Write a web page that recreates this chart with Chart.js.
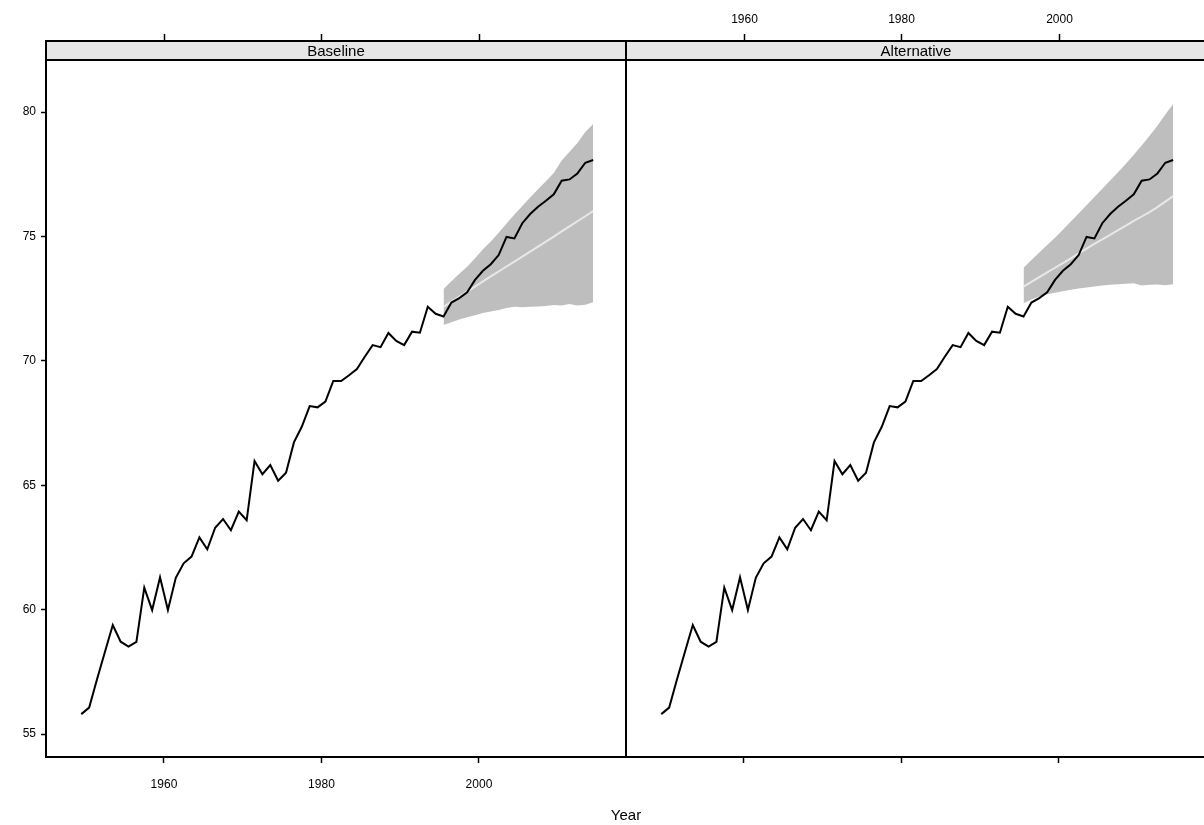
<!DOCTYPE html>
<html>
<head>
<meta charset="utf-8">
<script src="https://cdn.jsdelivr.net/npm/chart.js@4"></script>
<style>
  html, body { margin: 0; padding: 0; background: #fff; overflow: hidden; }
  #wrap { position: relative; width: 1204px; height: 825px; overflow: hidden; }
  canvas { position: absolute; top: 0; }
  #baseline { left: 0; }
  #alternative { left: 606px; }
  #xtitle { position: absolute; left: 0; width: 1252px; top: 806px; text-align: center;
            font: 15px "Liberation Sans", Arial, sans-serif; color: #000; }
</style>
</head>
<body>
<div id="wrap">
  <canvas id="baseline" width="626" height="825"></canvas>
  <canvas id="alternative" width="620" height="825"></canvas>
  <div id="xtitle">Year</div>
</div>
<script>
// observed series, one value per year (drawn at mid-year)
const years = [1949, 1950, 1951, 1952, 1953, 1954, 1955, 1956, 1957, 1958, 1959,
  1960, 1961, 1962, 1963, 1964, 1965, 1966, 1967, 1968, 1969,
  1970, 1971, 1972, 1973, 1974, 1975, 1976, 1977, 1978, 1979,
  1980, 1981, 1982, 1983, 1984, 1985, 1986, 1987, 1988, 1989,
  1990, 1991, 1992, 1993, 1994, 1995, 1996, 1997, 1998, 1999,
  2000, 2001, 2002, 2003, 2004, 2005, 2006, 2007, 2008, 2009,
  2010, 2011, 2012, 2013, 2014];
const observed = [55.80, 56.06, 57.20, 58.30, 59.38, 58.71, 58.51, 58.70, 60.88, 59.98,
  61.30, 59.98, 61.28, 61.86, 62.13, 62.90, 62.42, 63.29, 63.64, 63.19,
  63.94, 63.59, 65.97, 65.44, 65.81, 65.18, 65.50, 66.72, 67.35, 68.18,
  68.13, 68.36, 69.19, 69.19, 69.42, 69.67, 70.16, 70.63, 70.55, 71.12,
  70.80, 70.63, 71.17, 71.13, 72.17, 71.89, 71.78, 72.34, 72.52, 72.75,
  73.25, 73.62, 73.88, 74.25, 74.98, 74.92, 75.53, 75.90, 76.19, 76.43,
  76.69, 77.24, 77.29, 77.53, 77.96, 78.07];

// forecast window
const fcYears = [1995, 1996, 1997, 1998, 1999, 2000, 2001, 2002, 2003, 2004,
  2005, 2006, 2007, 2008, 2009, 2010, 2011, 2012, 2013, 2014];

// baseline model: median and interval bounds
const baseMedian = [72.17, 72.38, 72.58, 72.78, 72.98, 73.19, 73.39, 73.59, 73.79, 73.99,
  74.19, 74.39, 74.59, 74.79, 74.99, 75.20, 75.40, 75.61, 75.81, 76.02];
const baseLower = [71.44, 71.55, 71.66, 71.75, 71.83, 71.92, 71.98, 72.04, 72.12, 72.17,
  72.15, 72.17, 72.18, 72.20, 72.24, 72.22, 72.28, 72.22, 72.25, 72.35];
const baseUpper = [72.89, 73.20, 73.50, 73.78, 74.12, 74.48, 74.80, 75.15, 75.52, 75.88,
  76.22, 76.56, 76.90, 77.22, 77.55, 78.05, 78.40, 78.75, 79.20, 79.52];

// alternative model
const altMedian = [72.98, 73.17, 73.36, 73.55, 73.74, 73.93, 74.12, 74.32, 74.51, 74.70,
  74.88, 75.06, 75.25, 75.43, 75.62, 75.80, 75.98, 76.18, 76.40, 76.62];
const altLower = [72.31, 72.46, 72.58, 72.67, 72.74, 72.80, 72.86, 72.91, 72.95, 72.99,
  73.03, 73.06, 73.08, 73.10, 73.12, 73.03, 73.06, 73.07, 73.04, 73.08];
const altUpper = [73.74, 74.05, 74.35, 74.65, 74.95, 75.27, 75.60, 75.92, 76.25, 76.58,
  76.92, 77.25, 77.58, 77.92, 78.28, 78.65, 79.05, 79.45, 79.90, 80.32];

const xTicks = [1960, 1980, 2000];
const yTicks = [55, 60, 65, 70, 75, 80];

const FONT = '"Liberation Sans", Arial, sans-serif';
Chart.defaults.font.family = FONT;
Chart.defaults.color = '#000';

const pts = (xs, ys) => xs.map((yr, i) => ({ x: yr + 0.5, y: ys[i] }));

// strip, outer box and the tick marks above the strip
const panelFrame = {
  id: 'panelFrame',
  afterDraw(chart, args, opts) {
    const { ctx, chartArea: a, scales: { x } } = chart;
    const stripTop = 41;
    ctx.save();
    ctx.fillStyle = '#e6e6e6';
    ctx.fillRect(a.left, stripTop, a.right - a.left, a.top - stripTop);
    ctx.strokeStyle = '#000';
    ctx.lineWidth = 2;
    ctx.strokeRect(a.left, stripTop, a.right - a.left, a.top - stripTop);

    ctx.fillStyle = '#000';
    ctx.font = '15px ' + FONT;
    ctx.textAlign = 'center';
    ctx.textBaseline = 'middle';
    ctx.fillText(opts.title, (a.left + a.right) / 2, (stripTop + a.top) / 2 + 1);

    ctx.lineWidth = 1.5;
    ctx.font = '12px ' + FONT;
    xTicks.forEach(t => {
      const px = Math.round(x.getPixelForValue(t)) + 0.5;
      ctx.beginPath();
      ctx.moveTo(px, stripTop - 7);
      ctx.lineTo(px, stripTop);
      ctx.stroke();
      if (opts.topLabels) ctx.fillText(String(t), px, 20);
    });

    ctx.lineWidth = 2;
    ctx.strokeRect(a.left, a.top, a.right - a.left, a.bottom - a.top);
    ctx.restore();
  }
};

function makePanel(id, title, median, lower, upper, first) {
  return new Chart(document.getElementById(id), {
    type: 'line',
    data: {
      datasets: [
        { data: pts(years, observed), borderColor: '#000', borderWidth: 2, order: 0 },
        { data: pts(fcYears, median), borderColor: '#e8e8e8', borderWidth: 2, order: 1 },
        { data: pts(fcYears, upper), borderWidth: 0, borderColor: 'rgba(0,0,0,0)',
          backgroundColor: '#bebebe', fill: '+1', order: 2 },
        { data: pts(fcYears, lower), borderWidth: 0, borderColor: 'rgba(0,0,0,0)', fill: false, order: 3 }
      ]
    },
    options: {
      responsive: false,
      animation: false,
      devicePixelRatio: 1,
      parsing: false,
      elements: { point: { radius: 0 }, line: { tension: 0 } },
      layout: { padding: first ? { top: 60, left: 0, right: 0, bottom: 0 }
                               : { top: 60, left: 20, right: 20, bottom: 0 } },
      plugins: {
        legend: { display: false },
        tooltip: { enabled: false },
        panelFrame: { title: title, topLabels: !first }
      },
      scales: {
        x: {
          type: 'linear',
          position: 'bottom',
          min: 1945.02,
          max: 2018.67,
          afterBuildTicks: s => { s.ticks = xTicks.map(v => ({ value: v })); },
          afterFit: s => { s.height = 68; },
          ticks: { display: first, font: { size: 12 }, padding: 14, maxRotation: 0, autoSkip: false,
                   callback: v => String(v) },
          grid: { drawOnChartArea: false, drawTicks: true, tickLength: 6, tickColor: '#000', tickWidth: 1.5 },
          border: { display: true, color: '#000', width: 2 }
        },
        y: {
          display: first,
          min: 54.076,
          max: 82.09,
          afterBuildTicks: s => { s.ticks = yTicks.map(v => ({ value: v })); },
          afterFit: s => { s.width = first ? 46 : 0; },
          ticks: { font: { size: 12 }, padding: 5, callback: v => String(v) },
          grid: { drawOnChartArea: false, drawTicks: true, tickLength: 5, tickColor: '#000', tickWidth: 1.5 },
          border: { display: true, color: '#000', width: 2 }
        }
      }
    },
    plugins: [panelFrame]
  });
}

makePanel('baseline', 'Baseline', baseMedian, baseLower, baseUpper, true);
makePanel('alternative', 'Alternative', altMedian, altLower, altUpper, false);
</script>
</body>
</html>
